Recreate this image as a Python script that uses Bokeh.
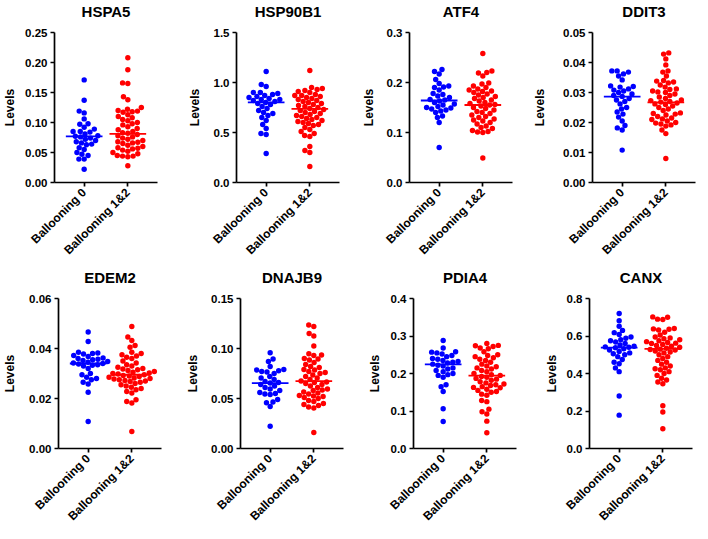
import math
import numpy as np
from bokeh.plotting import figure
from bokeh.layouts import column, row
from bokeh.models import Range1d, FixedTicker, PrintfTickFormatter, Title
from bokeh.embed import file_html
from bokeh.resources import INLINE

# ---------------- data ----------------
genes = ["HSPA5", "HSP90B1", "ATF4", "DDIT3", "EDEM2", "DNAJB9", "PDIA4", "CANX"]
groups = ["Ballooning 0", "Ballooning 1&2"]

hspa5_b0 = [0.171, 0.137, 0.119, 0.116, 0.106, 0.098, 0.097, 0.092, 0.089, 0.085, 0.085,
            0.084, 0.081, 0.078, 0.077, 0.076, 0.074, 0.072, 0.070, 0.068, 0.066, 0.064,
            0.063, 0.058, 0.055, 0.050, 0.047, 0.045, 0.039, 0.039, 0.022]
hspa5_b12 = [0.208, 0.188, 0.166, 0.165, 0.143, 0.138, 0.125, 0.122, 0.120, 0.119, 0.118,
             0.117, 0.113, 0.110, 0.108, 0.105, 0.103, 0.100, 0.098, 0.096, 0.093, 0.090,
             0.088, 0.085, 0.083, 0.082, 0.080, 0.078, 0.076, 0.074, 0.072, 0.070, 0.068,
             0.067, 0.066, 0.065, 0.062, 0.060, 0.058, 0.057, 0.056, 0.054, 0.052, 0.050,
             0.048, 0.045, 0.044, 0.044, 0.043, 0.028]
hsp90b1_b0 = [1.11, 0.98, 0.96, 0.90, 0.90, 0.89, 0.88, 0.87, 0.86, 0.85, 0.84, 0.83, 0.83,
              0.82, 0.81, 0.80, 0.79, 0.78, 0.76, 0.74, 0.72, 0.70, 0.69, 0.67, 0.65, 0.62,
              0.58, 0.54, 0.49, 0.48, 0.29]
hsp90b1_b12 = [1.12, 0.95, 0.94, 0.93, 0.92, 0.91, 0.90, 0.88, 0.87, 0.87, 0.86, 0.85, 0.84,
               0.83, 0.82, 0.81, 0.80, 0.79, 0.78, 0.77, 0.76, 0.75, 0.74, 0.73, 0.72, 0.71,
               0.70, 0.69, 0.68, 0.67, 0.66, 0.65, 0.64, 0.63, 0.62, 0.61, 0.60, 0.59, 0.58,
               0.57, 0.55, 0.53, 0.51, 0.49, 0.47, 0.46, 0.36, 0.32, 0.30, 0.16]
atf4_b0 = [0.226, 0.222, 0.217, 0.206, 0.198, 0.193, 0.191, 0.190, 0.185, 0.178, 0.176,
           0.173, 0.170, 0.166, 0.165, 0.163, 0.160, 0.157, 0.155, 0.152, 0.150, 0.149,
           0.147, 0.145, 0.143, 0.140, 0.133, 0.130, 0.120, 0.070]
atf4_b12 = [0.258, 0.223, 0.220, 0.219, 0.213, 0.199, 0.197, 0.193, 0.190, 0.187, 0.185,
            0.183, 0.182, 0.180, 0.177, 0.175, 0.172, 0.170, 0.168, 0.165, 0.163, 0.160,
            0.158, 0.156, 0.155, 0.153, 0.150, 0.148, 0.145, 0.142, 0.140, 0.138, 0.135,
            0.132, 0.130, 0.127, 0.125, 0.123, 0.120, 0.117, 0.113, 0.110, 0.108, 0.104,
            0.102, 0.101, 0.100, 0.049]
ddit3_b0 = [0.0372, 0.0372, 0.0368, 0.0362, 0.0355, 0.0342, 0.0322, 0.0320, 0.0318, 0.0312,
            0.0308, 0.0305, 0.0300, 0.0295, 0.0290, 0.0287, 0.0280, 0.0275, 0.0270, 0.0262,
            0.0250, 0.0245, 0.0235, 0.0228, 0.0218, 0.0205, 0.0190, 0.0182, 0.0175, 0.0108]
ddit3_b12 = [0.0432, 0.0428, 0.0412, 0.0392, 0.0372, 0.0368, 0.0355, 0.0340, 0.0338, 0.0335,
             0.0332, 0.0325, 0.0318, 0.0312, 0.0310, 0.0305, 0.0302, 0.0300, 0.0295, 0.0290,
             0.0285, 0.0280, 0.0275, 0.0273, 0.0270, 0.0268, 0.0265, 0.0262, 0.0260, 0.0255,
             0.0250, 0.0245, 0.0240, 0.0232, 0.0230, 0.0228, 0.0225, 0.0220, 0.0215, 0.0212,
             0.0210, 0.0205, 0.0200, 0.0198, 0.0195, 0.0192, 0.0188, 0.0175, 0.0163, 0.0080]
edem2_b0 = [0.0466, 0.0428, 0.0385, 0.0382, 0.0380, 0.0378, 0.0372, 0.0368, 0.0362, 0.0360,
            0.0357, 0.0355, 0.0352, 0.0348, 0.0345, 0.0342, 0.0340, 0.0338, 0.0335, 0.0333,
            0.0330, 0.0320, 0.0300, 0.0295, 0.0285, 0.0280, 0.0275, 0.0265, 0.0258, 0.0225,
            0.0108]
edem2_b12 = [0.0488, 0.0446, 0.0432, 0.0412, 0.0405, 0.0385, 0.0380, 0.0375, 0.0370, 0.0365,
             0.0360, 0.0350, 0.0342, 0.0335, 0.0330, 0.0325, 0.0320, 0.0318, 0.0315, 0.0312,
             0.0308, 0.0305, 0.0302, 0.0300, 0.0298, 0.0295, 0.0292, 0.0290, 0.0288, 0.0285,
             0.0282, 0.0280, 0.0278, 0.0275, 0.0272, 0.0270, 0.0268, 0.0265, 0.0260, 0.0255,
             0.0250, 0.0245, 0.0240, 0.0235, 0.0228, 0.0222, 0.0195, 0.0188, 0.0182, 0.0068]
dnajb9_b0 = [0.0958, 0.0895, 0.0870, 0.0820, 0.0790, 0.0785, 0.0778, 0.0770, 0.0765, 0.0750,
             0.0720, 0.0705, 0.0690, 0.0670, 0.0660, 0.0655, 0.0640, 0.0625, 0.0610, 0.0595,
             0.0580, 0.0560, 0.0550, 0.0545, 0.0540, 0.0490, 0.0465, 0.0458, 0.0420, 0.0222]
dnajb9_b12 = [0.1235, 0.1220, 0.1150, 0.1125, 0.1025, 0.0948, 0.0935, 0.0930, 0.0900, 0.0895,
              0.0885, 0.0860, 0.0840, 0.0820, 0.0810, 0.0790, 0.0785, 0.0770, 0.0760, 0.0750,
              0.0735, 0.0720, 0.0705, 0.0690, 0.0675, 0.0665, 0.0660, 0.0650, 0.0640, 0.0625,
              0.0610, 0.0595, 0.0585, 0.0580, 0.0565, 0.0555, 0.0545, 0.0530, 0.0525, 0.0520,
              0.0510, 0.0500, 0.0480, 0.0470, 0.0450, 0.0440, 0.0430, 0.0415, 0.0405, 0.0160]
pdia4_b0 = [0.288, 0.268, 0.258, 0.257, 0.255, 0.252, 0.248, 0.245, 0.240, 0.238, 0.235,
            0.232, 0.230, 0.228, 0.225, 0.222, 0.220, 0.215, 0.212, 0.208, 0.205, 0.200,
            0.197, 0.195, 0.190, 0.170, 0.165, 0.152, 0.106, 0.072]
pdia4_b12 = [0.280, 0.275, 0.274, 0.272, 0.268, 0.266, 0.258, 0.250, 0.248, 0.245, 0.242,
             0.238, 0.235, 0.230, 0.225, 0.220, 0.218, 0.215, 0.212, 0.208, 0.205, 0.200,
             0.197, 0.195, 0.192, 0.190, 0.187, 0.185, 0.182, 0.178, 0.175, 0.172, 0.170,
             0.168, 0.165, 0.163, 0.162, 0.158, 0.155, 0.152, 0.150, 0.145, 0.142, 0.128,
             0.125, 0.105, 0.098, 0.092, 0.073, 0.042]
canx_b0 = [0.720, 0.682, 0.652, 0.630, 0.618, 0.608, 0.595, 0.588, 0.580, 0.575, 0.568,
           0.560, 0.552, 0.545, 0.542, 0.540, 0.538, 0.532, 0.525, 0.518, 0.510, 0.505,
           0.500, 0.490, 0.475, 0.460, 0.452, 0.430, 0.410, 0.280, 0.178]
canx_b12 = [0.702, 0.700, 0.690, 0.688, 0.640, 0.638, 0.636, 0.632, 0.620, 0.605, 0.595,
            0.590, 0.585, 0.580, 0.575, 0.570, 0.565, 0.562, 0.560, 0.555, 0.550, 0.545,
            0.540, 0.535, 0.530, 0.528, 0.525, 0.520, 0.515, 0.510, 0.500, 0.490, 0.480,
            0.470, 0.460, 0.450, 0.440, 0.430, 0.425, 0.420, 0.410, 0.400, 0.390, 0.375,
            0.365, 0.355, 0.345, 0.228, 0.195, 0.105]

# horizontal centre lines for each gene: [Ballooning 0, Ballooning 1&2]
center_b0 = [0.077, 0.802, 0.164, 0.0286, 0.0340, 0.0654, 0.2246, 0.538]
center_b12 = [0.081, 0.737, 0.155, 0.0267, 0.0295, 0.0674, 0.1944, 0.531]

y_max = [0.25, 1.5, 0.3, 0.05, 0.06, 0.15, 0.4, 0.8]
y_step = [0.05, 0.5, 0.1, 0.01, 0.02, 0.05, 0.1, 0.2]
y_fmt = ["%.2f", "%.1f", "%.1f", "%.2f", "%.2f", "%.2f", "%.1f", "%.1f"]

values_b0 = [hspa5_b0, hsp90b1_b0, atf4_b0, ddit3_b0, edem2_b0, dnajb9_b0, pdia4_b0, canx_b0]
values_b12 = [hspa5_b12, hsp90b1_b12, atf4_b12, ddit3_b12, edem2_b12, dnajb9_b12, pdia4_b12, canx_b12]

# ---------------- layout / style ----------------
BLUE = "#0000FF"
RED = "#FF0000"
FONT = "Liberation Sans"
FRAME_W = 103
FRAME_H = 150
X0, X1 = -0.68, 1.68
DOT = 5.4
GAP = 5.3

fig_w = [175, 175, 175, 167]
row_h = [265, 258]
frame_left = [50, 57, 55, 63, 50, 57, 55, 56]
frame_top = [32, 33]
label_standoff = [5, 9, 8, 13, 9, 8, 6, 5]


def swarm(vals, ypx, xpx, d):
    vals = np.asarray(vals, dtype=float)
    order = np.argsort(vals)
    out = np.zeros(len(vals))
    px_x, px_y = [], []
    for i in order:
        y = vals[i] * ypx
        cands = [0.0]
        near = []
        for xj, yj in zip(px_x, px_y):
            dy = y - yj
            if abs(dy) < d:
                dx = math.sqrt(d * d - dy * dy)
                cands += [xj + dx, xj - dx]
                near.append((xj, yj))
        cands.sort(key=lambda c: (round(abs(c), 6), c))
        chosen = 0.0
        for c in cands:
            if all((c - xj) ** 2 + (y - yj) ** 2 >= d * d - 1e-6 for xj, yj in near):
                chosen = c
                break
        out[i] = chosen
        px_x.append(chosen)
        px_y.append(y)
    return out / xpx


def make_panel(k):
    r, c = divmod(k, 4)
    left = frame_left[k]
    right = fig_w[c] - FRAME_W - left
    top = frame_top[r]
    bottom = row_h[r] - FRAME_H - top
    p = figure(frame_width=FRAME_W, frame_height=FRAME_H,
               x_range=Range1d(X0, X1), y_range=Range1d(0, y_max[k]),
               output_backend="svg", toolbar_location=None,
               min_border_left=left, min_border_right=right,
               min_border_top=top, min_border_bottom=bottom,
               background_fill_color="white", border_fill_color="white")
    p.title = None
    p.outline_line_color = None
    p.xgrid.visible = False
    p.ygrid.visible = False

    # blank spacer between frame and the title, then the title itself
    p.add_layout(Title(text=" ", text_font_size="6px", standoff=5, align="center"), "above")
    p.add_layout(Title(text=genes[k], align="center", text_font=FONT,
                       text_font_size="15px", text_font_style="bold",
                       text_color="black", standoff=0), "above")

    ticks = [round(v, 6) for v in np.arange(0, y_max[k] + y_step[k] / 2, y_step[k])]
    p.yaxis.ticker = FixedTicker(ticks=ticks)
    p.yaxis.formatter = PrintfTickFormatter(format=y_fmt[k])
    p.yaxis.axis_label = "Levels"
    p.yaxis.axis_label_standoff = label_standoff[k]
    p.xaxis.ticker = FixedTicker(ticks=[0, 1])
    p.xaxis.major_label_overrides = {0: groups[0], 1: groups[1]}
    p.xaxis.major_label_orientation = math.pi / 4

    for ax in (p.xaxis[0], p.yaxis[0]):
        ax.axis_line_width = 1.7
        ax.axis_line_color = "black"
        ax.major_tick_line_width = 1.7
        ax.major_tick_line_color = "black"
        ax.major_tick_out = 4
        ax.major_tick_in = 0
        ax.minor_tick_line_color = None
        ax.major_label_text_font = FONT
        ax.major_label_text_font_style = "bold"
        ax.major_label_text_font_size = "11.5px"
        ax.major_label_text_color = "black"
        ax.major_label_standoff = 3
        ax.axis_label_text_font = FONT
        ax.axis_label_text_font_style = "bold"
        ax.axis_label_text_font_size = "12px"
        ax.axis_label_text_color = "black"
    p.xaxis.major_label_text_font_size = "12px"
    p.xaxis.major_label_standoff = 4

    ypx = FRAME_H / y_max[k]
    xpx = FRAME_W / (X1 - X0)
    for ci, (vals, col, cen) in enumerate(((values_b0[k], BLUE, center_b0[k]),
                                           (values_b12[k], RED, center_b12[k]))):
        offs = swarm(vals, ypx, xpx, GAP)
        xs = ci + offs
        p.scatter(xs, vals, size=DOT, fill_color=col, line_color=None)
        p.segment(x0=[ci - 0.42], x1=[ci + 0.42], y0=[cen], y1=[cen],
                  line_color=col, line_width=1.8)
    return p


panels = [make_panel(k) for k in range(8)]
layout = column(row(*panels[:4], spacing=0), row(*panels[4:], spacing=0), spacing=0)

open("out.html", "w").write(file_html(layout, INLINE))
